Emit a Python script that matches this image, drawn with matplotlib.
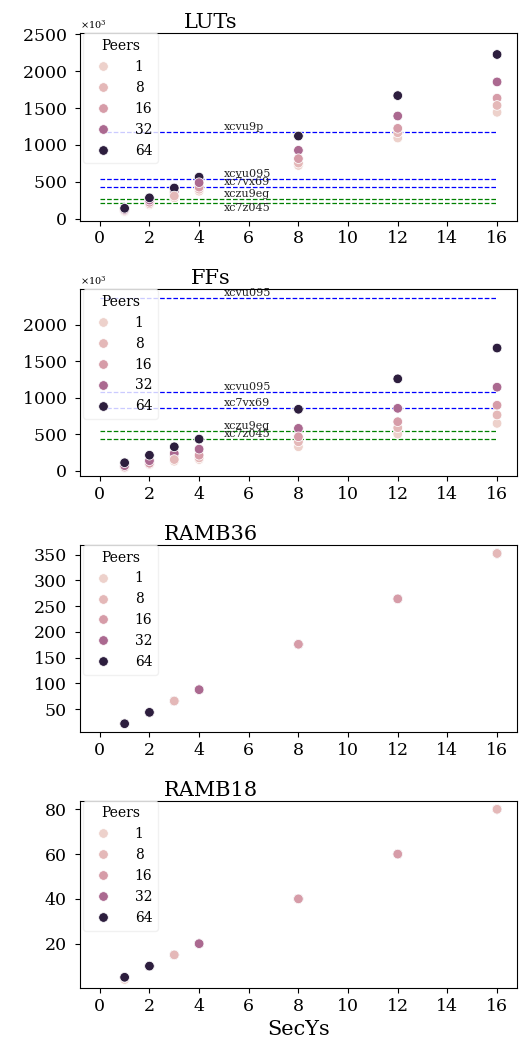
import matplotlib
matplotlib.use("Agg")
import matplotlib.pyplot as plt
from matplotlib.ticker import MultipleLocator
import seaborn as sns
import pandas as pd

plt.rcParams['font.family'] = 'DejaVu Serif'
plt.rcParams['mathtext.fontset'] = 'dejavuserif'

# ---- data (row order = drawing order) ----
secys = [1]*5 + [2]*5 + [3]*5 + [4]*5 + [8]*5 + [12]*5 + [16]*5
peers = [1, 8, 16, 32, 64,
         1, 8, 16, 32, 64,
         1, 16, 32, 64, 8,
         1, 8, 16, 64, 32,
         1, 8, 32, 64, 16,
         1, 8, 32, 64, 16,
         1, 16, 32, 64, 8]
luts_k = [98, 105, 115, 128, 144,
          190, 205, 225, 255, 285,
          285, 340, 370, 418, 310,
          375, 402, 430, 565, 490,
          723, 755, 928, 1121, 815,
          1094, 1165, 1392, 1668, 1225,
          1442, 1633, 1853, 2224, 1535]
ffs_k = [42, 46, 53, 72, 112,
         85, 92, 105, 140, 215,
         133, 192, 239, 330, 156,
         156, 178, 215, 435, 298,
         330, 398, 582, 843, 467,
         504, 590, 856, 1259, 673,
         650, 898, 1145, 1680, 765]
ramb36 = [22]*5 + [44]*5 + [66]*5 + [88]*5 + [176]*5 + [264]*5 + [352]*5
ramb18 = [4, 5, 5, 5, 5] + [10]*5 + [15]*5 + [20]*5 + [40]*5 + [60]*5 + [80]*5

# device limits (thousands)
lut_dev_names = ["xcvu9p", "xcvu095", "xc7vx69", "xczu9eg", "xc7z045"]
lut_dev_vals = [1182.24, 537.6, 433.2, 274.08, 218.6]
lut_dev_colors = ["blue", "blue", "blue", "green", "green"]
ff_dev_names = ["xcvu095", "xcvu095", "xc7vx69", "xczu9eg", "xc7z045"]
ff_dev_vals = [2364.48, 1075.2, 866.4, 548.16, 437.2]
ff_dev_colors = ["blue", "blue", "blue", "green", "green"]

df = pd.DataFrame({
    "SecYs": secys,
    "Peers": peers,
    "LUTs": [v * 1000 for v in luts_k],
    "FFs": [v * 1000 for v in ffs_k],
    "RAMB36": ramb36,
    "RAMB18": ramb18,
})

fig, axes = plt.subplots(4, 1, figsize=(5.19, 10.52), dpi=100)
fig.subplots_adjust(left=0.154, right=0.996, top=0.9683, bottom=0.0608, hspace=0.366)

metrics = ["LUTs", "FFs", "RAMB36", "RAMB18"]
ysteps = [500000, 500000, 50, 20]
for ax, m, st in zip(axes, metrics, ysteps):
    sns.scatterplot(data=df, x="SecYs", y=m, hue="Peers", legend="full",
                    s=48, ax=ax, zorder=3)
    ax.set_title(m, fontsize=15, x=0.30, pad=3.5)
    ax.set_ylabel("")
    ax.set_xticks(range(0, 17, 2))
    ax.set_xlim(-0.8, 16.8)
    ax.yaxis.set_major_locator(MultipleLocator(st))
    ax.tick_params(labelsize=12.5)
    ax.tick_params(axis="y", pad=6)
    sns.move_legend(ax, "upper left", bbox_to_anchor=(0.008, 1.0),
                    borderaxespad=0, fontsize=10, title_fontsize=10,
                    frameon=True, handletextpad=1.3)
    ax.get_legend().get_frame().set_edgecolor("#eeeeee")
    if ax is not axes[-1]:
        ax.set_xlabel("")
    else:
        ax.set_xlabel("SecYs", fontsize=15)


def add_devices(ax, names, vals, colors, below=()):
    for n, v, c in zip(names, vals, colors):
        y = v * 1000
        ax.hlines(y, 0, 16, colors=c, linestyles="--", linewidth=0.9, zorder=2)
        va = "top" if n in below else "bottom"
        ax.text(5, y, n, fontsize=8, color="#222222", va=va, ha="left", zorder=2)


add_devices(axes[0], lut_dev_names, lut_dev_vals, lut_dev_colors, below=("xc7z045",))
add_devices(axes[1], ff_dev_names, ff_dev_vals, ff_dev_colors)

axes[0].set_ylim(-23000, 2510000)
axes[1].set_ylim(-75000, 2485000)
for ax in axes[:2]:
    ax.ticklabel_format(axis="y", style="sci", scilimits=(3, 3), useMathText=True)
    ax.yaxis.get_offset_text().set_fontsize(7)

fig.savefig("out.png", dpi=100)
